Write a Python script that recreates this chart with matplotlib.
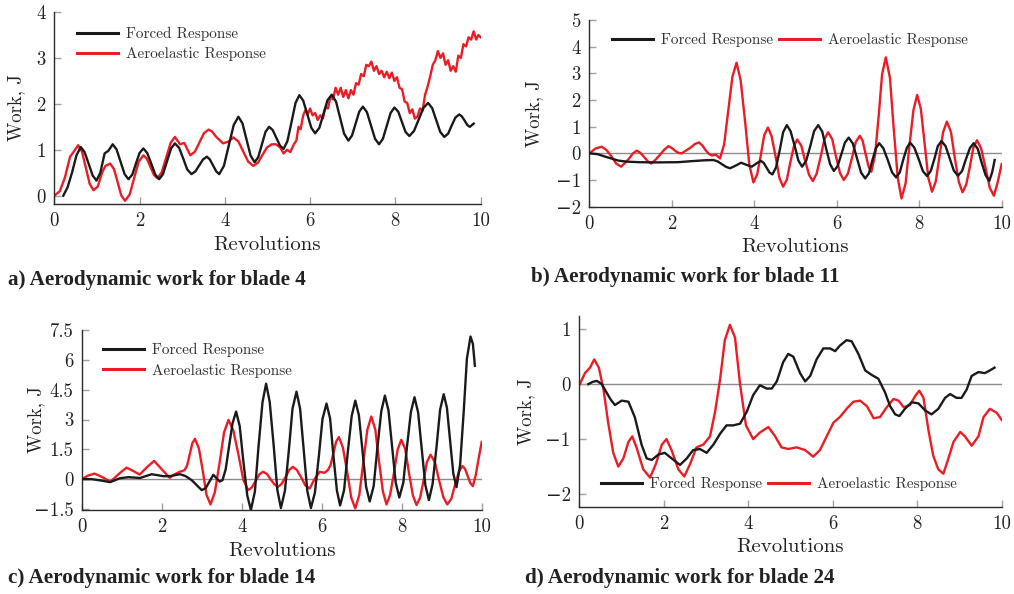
import matplotlib
matplotlib.use('Agg')
import matplotlib.pyplot as plt
from matplotlib.lines import Line2D

plt.rcParams['font.family'] = ['cmr10', 'DejaVu Serif']
plt.rcParams['mathtext.fontset'] = 'cm'
plt.rcParams['axes.unicode_minus'] = True

# ---------------- data (x = revolutions, y = work in J) ----------------
a_forced = [(0.21, 0.0), (0.31, 0.18), (0.415, 0.5), (0.52, 0.88), (0.62, 1.06), (0.71, 0.95), (0.805, 0.7),
            (0.90, 0.44), (0.99, 0.33), (1.08, 0.5), (1.18, 0.92), (1.27, 0.98), (1.37, 1.12), (1.46, 1.01),
            (1.555, 0.74), (1.65, 0.47), (1.74, 0.36), (1.83, 0.46), (1.915, 0.7), (2.0, 0.93), (2.09, 1.03),
            (2.18, 0.93), (2.275, 0.7), (2.37, 0.46), (2.46, 0.36), (2.55, 0.47), (2.645, 0.75), (2.74, 1.03),
            (2.83, 1.14), (2.93, 1.04), (3.025, 0.81), (3.12, 0.57), (3.22, 0.47), (3.31, 0.53), (3.40, 0.66),
            (3.49, 0.79), (3.58, 0.85), (3.65, 0.79), (3.725, 0.66), (3.80, 0.53), (3.87, 0.47), (3.98, 0.65),
            (4.095, 1.1), (4.21, 1.54), (4.32, 1.72), (4.415, 1.575), (4.51, 1.225), (4.605, 0.875),
            (4.70, 0.73), (4.785, 0.84), (4.87, 1.115), (4.955, 1.39), (5.04, 1.5), (5.125, 1.43),
            (5.21, 1.26), (5.295, 1.09), (5.38, 1.02), (5.47, 1.19), (5.565, 1.6), (5.66, 2.02), (5.75, 2.19),
            (5.84, 2.07), (5.935, 1.78), (6.03, 1.48), (6.12, 1.36), (6.22, 1.48), (6.315, 1.78), (6.41, 2.08),
            (6.51, 2.2), (6.61, 2.05), (6.705, 1.7), (6.80, 1.35), (6.90, 1.2), (6.985, 1.31), (7.07, 1.57),
            (7.155, 1.83), (7.24, 1.94), (7.335, 1.82), (7.43, 1.53), (7.525, 1.24), (7.62, 1.12),
            (7.71, 1.24), (7.80, 1.52), (7.89, 1.8), (7.98, 1.92), (8.07, 1.83), (8.155, 1.61), (8.24, 1.39),
            (8.33, 1.3), (8.44, 1.41), (8.55, 1.66), (8.66, 1.91), (8.77, 2.02), (8.865, 1.91), (8.96, 1.65),
            (9.055, 1.39), (9.15, 1.28), (9.24, 1.35), (9.325, 1.53), (9.41, 1.7), (9.50, 1.77), (9.56, 1.73),
            (9.625, 1.64), (9.69, 1.54), (9.75, 1.5), (9.84, 1.57)]
a_aero = [(0.0, 0.0), (0.13, 0.1), (0.25, 0.4), (0.37, 0.85), (0.45, 0.95), (0.56, 1.1), (0.65, 0.96),
          (0.74, 0.61), (0.83, 0.26), (0.92, 0.12), (1.02, 0.2), (1.12, 0.5), (1.20, 0.65), (1.31, 0.7),
          (1.40, 0.58), (1.485, 0.3), (1.57, 0.01), (1.66, -0.11), (1.77, 0.03), (1.875, 0.39), (1.98, 0.74),
          (2.09, 0.88), (2.17, 0.81), (2.255, 0.63), (2.34, 0.45), (2.42, 0.38), (2.52, 0.51), (2.625, 0.83),
          (2.73, 1.15), (2.83, 1.28), (2.95, 1.12), (3.05, 1.15), (3.19, 0.88), (3.30, 0.96), (3.405, 1.16),
          (3.51, 1.36), (3.62, 1.44), (3.70, 1.4), (3.80, 1.28), (3.96, 1.14), (4.09, 1.18), (4.20, 1.27),
          (4.32, 1.18), (4.435, 0.96), (4.55, 0.74), (4.67, 0.65), (4.78, 0.72), (4.885, 0.89), (4.99, 1.05),
          (5.10, 1.12), (5.20, 1.12), (5.30, 1.05), (5.38, 0.92), (5.46, 1.0), (5.54, 0.95), (5.62, 1.12),
          (5.68, 1.2), (5.73, 1.5), (5.78, 1.45), (5.84, 1.75), (5.89, 1.86), (5.95, 1.78), (6.00, 1.9),
          (6.06, 1.75), (6.12, 1.8), (6.18, 1.65), (6.24, 1.75), (6.30, 1.68), (6.36, 1.92), (6.42, 1.9),
          (6.48, 2.15), (6.54, 2.1), (6.60, 2.35), (6.66, 2.2), (6.72, 2.35), (6.78, 2.15), (6.84, 2.3),
          (6.90, 2.12), (6.96, 2.3), (7.02, 2.2), (7.08, 2.45), (7.14, 2.42), (7.20, 2.65), (7.26, 2.6),
          (7.32, 2.85), (7.38, 2.82), (7.44, 2.92), (7.50, 2.72), (7.56, 2.82), (7.62, 2.65), (7.68, 2.72),
          (7.74, 2.58), (7.80, 2.7), (7.86, 2.56), (7.92, 2.68), (7.98, 2.5), (8.04, 2.58), (8.10, 2.35),
          (8.16, 2.32), (8.22, 2.05), (8.28, 2.02), (8.34, 1.8), (8.40, 1.88), (8.46, 1.68), (8.52, 1.72),
          (8.58, 1.9), (8.64, 1.85), (8.70, 2.2), (8.76, 2.38), (8.82, 2.6), (8.88, 2.85), (8.94, 2.95),
          (9.00, 3.15), (9.06, 3.0), (9.12, 3.1), (9.18, 2.85), (9.24, 2.95), (9.30, 2.72), (9.36, 2.82),
          (9.42, 2.7), (9.48, 3.05), (9.54, 3.0), (9.60, 3.3), (9.66, 3.25), (9.72, 3.45), (9.78, 3.4),
          (9.84, 3.58), (9.90, 3.4), (9.95, 3.5), (10.0, 3.45)]

b_forced = [(0.0, 0.0), (0.2, -0.03), (0.38, -0.12), (0.55, -0.2), (0.7, -0.27), (0.9, -0.31), (1.19, -0.33),
            (1.6, -0.34), (2.16, -0.33), (2.5, -0.29), (2.8, -0.26), (3.01, -0.25), (3.11, -0.3), (3.21, -0.4),
            (3.31, -0.5), (3.41, -0.56), (3.55, -0.46), (3.68, -0.35), (3.81, -0.43), (3.94, -0.5),
            (4.05, -0.38), (4.16, -0.28), (4.23, -0.36), (4.30, -0.54), (4.37, -0.72), (4.44, -0.79),
            (4.53, -0.52), (4.62, 0.14), (4.70, 0.79), (4.79, 1.06), (4.88, 0.83), (4.98, 0.28), (5.07, -0.27),
            (5.16, -0.5), (5.26, -0.27), (5.36, 0.28), (5.45, 0.83), (5.55, 1.06), (5.65, 0.81), (5.74, 0.2),
            (5.84, -0.41), (5.93, -0.66), (6.02, -0.48), (6.11, -0.04), (6.20, 0.41), (6.29, 0.59),
            (6.39, 0.37), (6.49, -0.18), (6.59, -0.72), (6.69, -0.94), (6.78, -0.75), (6.86, -0.28),
            (6.95, 0.19), (7.03, 0.38), (7.13, 0.19), (7.24, -0.26), (7.34, -0.71), (7.44, -0.9),
            (7.53, -0.71), (7.61, -0.25), (7.70, 0.21), (7.78, 0.4), (7.88, 0.22), (7.99, -0.23),
            (8.09, -0.67), (8.19, -0.85), (8.28, -0.66), (8.37, -0.2), (8.45, 0.27), (8.54, 0.46),
            (8.64, 0.27), (8.74, -0.19), (8.84, -0.65), (8.94, -0.84), (9.04, -0.66), (9.13, -0.23),
            (9.23, 0.2), (9.32, 0.38), (9.42, 0.17), (9.51, -0.33), (9.61, -0.82), (9.70, -1.03),
            (9.77, -0.7), (9.83, -0.25)]
b_aero = [(0.0, 0.0), (0.15, 0.18), (0.3, 0.25), (0.42, 0.12), (0.54, -0.12), (0.65, -0.38), (0.77, -0.5),
          (0.87, -0.35), (0.96, -0.2), (1.06, 0.0), (1.15, 0.1), (1.24, 0.02), (1.33, -0.14), (1.42, -0.3),
          (1.5, -0.38), (1.6, -0.25), (1.71, -0.06), (1.82, 0.14), (1.92, 0.27), (2.0, 0.2), (2.08, 0.1),
          (2.16, 0.02), (2.24, 0.0), (2.34, 0.1), (2.45, 0.21), (2.56, 0.35), (2.66, 0.41), (2.74, 0.3),
          (2.82, 0.12), (2.9, -0.02), (2.97, -0.08), (3.07, -0.05), (3.17, -0.19), (3.27, 0.34),
          (3.37, 1.61), (3.47, 2.87), (3.57, 3.4), (3.67, 2.74), (3.78, 1.16), (3.88, -0.43), (3.98, -1.09),
          (4.07, -0.79), (4.16, -0.06), (4.24, 0.67), (4.33, 0.97), (4.42, 0.65), (4.52, -0.14),
          (4.61, -0.92), (4.70, -1.25), (4.79, -0.99), (4.87, -0.37), (4.96, 0.26), (5.04, 0.52),
          (5.14, 0.29), (5.23, -0.26), (5.33, -0.81), (5.42, -1.04), (5.51, -0.77), (5.61, -0.13),
          (5.70, 0.52), (5.79, 0.79), (5.89, 0.53), (5.98, -0.11), (6.08, -0.74), (6.17, -1.0),
          (6.27, -0.76), (6.37, -0.17), (6.46, 0.42), (6.56, 0.66), (6.63, 0.46), (6.70, -0.02),
          (6.77, -0.49), (6.84, -0.69), (6.93, -0.06), (7.02, 1.46), (7.10, 2.97), (7.19, 3.6),
          (7.29, 2.83), (7.38, 0.96), (7.48, -0.92), (7.57, -1.69), (7.67, -1.12), (7.76, 0.25),
          (7.86, 1.62), (7.95, 2.19), (8.04, 1.66), (8.13, 0.38), (8.22, -0.91), (8.31, -1.44),
          (8.40, -1.06), (8.49, -0.13), (8.58, 0.8), (8.67, 1.19), (8.77, 0.8), (8.86, -0.14),
          (8.96, -1.07), (9.05, -1.46), (9.14, -1.17), (9.23, -0.49), (9.31, 0.2), (9.40, 0.49),
          (9.50, 0.19), (9.61, -0.55), (9.71, -1.29), (9.81, -1.59), (9.90, -1.1), (10.0, -0.4)]

c_forced = [(0.0, 0.0), (0.25, 0.0), (0.46, -0.06), (0.71, -0.15), (0.96, 0.05), (1.17, 0.1), (1.46, 0.06),
            (1.75, 0.25), (2.04, 0.15), (2.2, 0.15), (2.46, 0.25), (2.6, 0.15), (2.75, -0.05), (2.9, -0.35),
            (3.0, -0.55), (3.1, -0.45), (3.2, -0.1), (3.29, 0.22), (3.37, 0.05), (3.45, -0.12),
            (3.52, -0.05), (3.6, 0.5), (3.68, 1.6), (3.77, 2.8), (3.86, 3.4), (3.95, 2.67), (4.04, 0.93),
            (4.14, -0.83), (4.23, -1.55), (4.33, -0.62), (4.42, 1.63), (4.52, 3.87), (4.61, 4.8),
            (4.70, 3.89), (4.80, 1.68), (4.89, -0.53), (4.98, -1.45), (5.08, -0.59), (5.18, 1.48),
            (5.27, 3.54), (5.37, 4.4), (5.46, 3.54), (5.55, 1.48), (5.64, -0.59), (5.73, -1.45),
            (5.83, -0.68), (5.93, 1.18), (6.02, 3.03), (6.12, 3.8), (6.21, 3.05), (6.29, 1.24),
            (6.38, -0.57), (6.46, -1.32), (6.56, -0.55), (6.65, 1.32), (6.75, 3.18), (6.84, 3.95),
            (6.93, 3.21), (7.02, 1.42), (7.11, -0.38), (7.20, -1.12), (7.30, -0.34), (7.39, 1.54),
            (7.49, 3.42), (7.58, 4.2), (7.67, 3.45), (7.76, 1.64), (7.85, -0.17), (7.94, -0.92),
            (8.04, -0.18), (8.13, 1.6), (8.23, 3.38), (8.32, 4.12), (8.41, 3.36), (8.50, 1.54),
            (8.59, -0.29), (8.68, -1.05), (8.77, -0.27), (8.87, 1.61), (8.96, 3.49), (9.05, 4.27),
            (9.13, 3.6), (9.21, 1.94), (9.29, 0.28), (9.37, -0.4), (9.46, 0.71), (9.55, 3.39),
            (9.63, 6.06), (9.72, 7.17), (9.78, 6.8), (9.83, 5.7)]
c_aero = [(0.0, 0.0), (0.16, 0.18), (0.32, 0.28), (0.52, 0.1), (0.72, -0.13), (0.92, 0.25), (1.12, 0.58),
          (1.28, 0.42), (1.45, 0.23), (1.63, 0.6), (1.81, 0.92), (2.0, 0.5), (2.2, 0.07), (2.33, 0.25),
          (2.45, 0.37), (2.57, 0.45), (2.635, 0.68), (2.70, 1.24), (2.765, 1.8), (2.83, 2.03), (2.93, 1.55),
          (3.03, 0.38), (3.12, -0.79), (3.22, -1.27), (3.33, -0.65), (3.45, 0.86), (3.56, 2.36),
          (3.67, 2.98), (3.79, 2.46), (3.92, 1.22), (4.04, -0.03), (4.16, -0.55), (4.25, -0.42),
          (4.35, -0.09), (4.44, 0.24), (4.53, 0.37), (4.63, 0.27), (4.72, 0.0), (4.82, -0.27),
          (4.91, -0.38), (5.0, -0.23), (5.1, 0.12), (5.19, 0.47), (5.28, 0.62), (5.38, 0.46), (5.49, 0.08),
          (5.59, -0.31), (5.7, -0.47), (5.82, 0.0), (5.95, 0.37), (6.07, 0.32), (6.15, 0.45), (6.22, 0.69),
          (6.29, 1.29), (6.36, 1.88), (6.43, 2.12), (6.53, 1.59), (6.64, 0.33), (6.74, -0.94),
          (6.84, -1.47), (6.94, -0.79), (7.04, 0.84), (7.14, 2.47), (7.24, 3.15), (7.34, 2.5), (7.43, 0.94),
          (7.53, -0.62), (7.62, -1.27), (7.71, -0.79), (7.81, 0.36), (7.90, 1.5), (7.99, 1.98), (8.09, 1.5),
          (8.18, 0.34), (8.28, -0.82), (8.37, -1.3), (8.46, -0.93), (8.55, -0.04), (8.63, 0.86),
          (8.72, 1.23), (8.83, 0.86), (8.93, -0.02), (9.04, -0.9), (9.14, -1.27), (9.24, -0.99),
          (9.33, -0.31), (9.43, 0.38), (9.52, 0.66), (9.585, 0.51), (9.65, 0.16), (9.715, -0.2),
          (9.78, -0.35), (9.85, 0.2), (9.92, 1.0), (10.0, 1.87)]

d_forced = [(0.22, 0.0), (0.32, 0.04), (0.42, 0.06), (0.54, 0.0), (0.65, -0.15), (0.75, -0.28), (0.85, -0.38),
            (1.01, -0.3), (1.17, -0.32), (1.32, -0.6), (1.48, -1.1), (1.60, -1.35), (1.72, -1.38),
            (1.88, -1.28), (2.03, -1.25), (2.19, -1.35), (2.39, -1.47), (2.55, -1.35), (2.70, -1.2),
            (2.86, -1.18), (3.02, -1.25), (3.18, -1.1), (3.34, -0.9), (3.49, -0.75), (3.65, -0.75),
            (3.81, -0.72), (3.97, -0.5), (4.12, -0.2), (4.28, -0.02), (4.44, -0.08), (4.56, -0.08),
            (4.68, 0.05), (4.83, 0.4), (4.95, 0.55), (5.07, 0.5), (5.23, 0.2), (5.35, 0.05), (5.47, 0.15),
            (5.62, 0.45), (5.78, 0.65), (5.94, 0.65), (6.06, 0.6), (6.17, 0.7), (6.33, 0.8), (6.45, 0.78),
            (6.61, 0.55), (6.77, 0.25), (6.92, 0.17), (7.08, 0.1), (7.24, -0.15), (7.36, -0.4),
            (7.48, -0.55), (7.58, -0.58), (7.71, -0.45), (7.87, -0.33), (8.03, -0.35), (8.19, -0.48),
            (8.34, -0.55), (8.50, -0.45), (8.66, -0.25), (8.78, -0.18), (8.93, -0.25), (9.05, -0.25),
            (9.17, -0.1), (9.29, 0.15), (9.45, 0.22), (9.60, 0.2), (9.72, 0.25), (9.83, 0.3)]
d_aero = [(0.02, 0.0), (0.14, 0.2), (0.26, 0.3), (0.36, 0.45), (0.47, 0.3), (0.58, -0.1), (0.69, -0.7),
          (0.81, -1.25), (0.93, -1.5), (1.05, -1.35), (1.17, -1.05), (1.26, -0.95), (1.36, -1.15),
          (1.52, -1.55), (1.68, -1.7), (1.82, -1.45), (1.96, -1.1), (2.07, -1.0), (2.19, -1.2),
          (2.35, -1.55), (2.49, -1.68), (2.63, -1.45), (2.78, -1.15), (2.94, -1.1), (3.10, -0.95),
          (3.22, -0.5), (3.34, 0.1), (3.45, 0.8), (3.57, 1.08), (3.69, 0.85), (3.81, 0.0), (3.95, -0.75),
          (4.12, -1.0), (4.28, -0.88), (4.48, -0.78), (4.64, -0.95), (4.79, -1.15), (4.95, -1.18),
          (5.15, -1.15), (5.35, -1.2), (5.54, -1.32), (5.70, -1.2), (5.86, -0.95), (6.02, -0.7),
          (6.17, -0.6), (6.33, -0.45), (6.49, -0.32), (6.65, -0.3), (6.81, -0.4), (6.97, -0.62),
          (7.12, -0.6), (7.28, -0.42), (7.44, -0.27), (7.56, -0.3), (7.68, -0.42), (7.83, -0.38),
          (7.95, -0.22), (8.05, -0.12), (8.15, -0.25), (8.27, -0.85), (8.38, -1.3), (8.50, -1.55),
          (8.62, -1.63), (8.74, -1.35), (8.86, -1.05), (9.02, -0.87), (9.13, -0.95), (9.29, -1.12),
          (9.45, -0.95), (9.57, -0.6), (9.72, -0.45), (9.88, -0.52), (10.0, -0.65)]

x_ticks = [0, 2, 4, 6, 8, 10]
x_ticklabels = ['0', '2', '4', '6', '8', '10']
a_yticks = [0, 1, 2, 3, 4]
a_yticklabels = ['0', '1', '2', '3', '4']
b_yticks = [-2, -1, 0, 1, 2, 3, 4, 5]
b_yticklabels = ['\u22122', '\u22121', '0', '1', '2', '3', '4', '5']
c_yticks = [-1.5, 0, 1.5, 3, 4.5, 6, 7.5]
c_yticklabels = ['\u22121.5', '0', '1.5', '3', '4.5', '6', '7.5']
d_yticks = [-2, -1, 0, 1]
d_yticklabels = ['\u22122', '\u22121', '0', '1']

series_labels = ['Forced Response', 'Aeroelastic Response']
captions = ['a) Aerodynamic work for blade 4', 'b) Aerodynamic work for blade 11',
            'c) Aerodynamic work for blade 14', 'd) Aerodynamic work for blade 24']

# ---------------- styling ----------------
W, H = 1014, 594
BLACK = '#1a1a1a'
RED = '#ec1c24'
LW = 1.7

fig = plt.figure(figsize=(W / 100, H / 100), dpi=100)


def px_rect(x0, x1, ytop, ybot):
    return [x0 / W, 1 - ybot / H, (x1 - x0) / W, (ybot - ytop) / H]


def setup(ax, ylim, yticks, yticklabels, zero_line, ylabel_x):
    ax.set_xlim(0, 10)
    ax.set_ylim(*ylim)
    for s in ['top', 'right']:
        ax.spines[s].set_visible(False)
    for s in ['left', 'bottom']:
        ax.spines[s].set_color('#2b2b2b')
        ax.spines[s].set_linewidth(1.0)
    ax.set_xticks(x_ticks, x_ticklabels)
    ax.set_yticks(yticks, yticklabels)
    ax.tick_params(direction='in', length=5, width=1, color='#a0a0a0', labelsize=13.5,
                   labelcolor='#222222', pad=6)
    ax.set_xlabel('Revolutions', fontsize=15, color='#222222', labelpad=4)
    ax.set_ylabel('Work, J', fontsize=13.5, color='#222222')
    ax.yaxis.set_label_coords(ylabel_x, 0.5)
    if zero_line:
        ax.axhline(0, color='#8c8c8c', lw=1.0, zorder=1)
    ax.patch.set_alpha(0)


def draw(ax, forced, aero):
    ax.plot([p[0] for p in forced], [p[1] for p in forced], color=BLACK, lw=LW, zorder=3,
            solid_joinstyle='round')
    ax.plot([p[0] for p in aero], [p[1] for p in aero], color=RED, lw=LW, zorder=2,
            solid_joinstyle='round')


def legend(ax, xpx, ypx, ncol):
    handles = [Line2D([], [], color=BLACK, lw=2.2), Line2D([], [], color=RED, lw=2.2)]
    ax.legend(handles, series_labels, loc='center left', ncol=ncol,
              bbox_to_anchor=(xpx / W, 1 - ypx / H), bbox_transform=fig.transFigure,
              frameon=False, fontsize=11, handlelength=2.7, handletextpad=0.5,
              columnspacing=0.4, labelspacing=0.42, borderpad=0, borderaxespad=0,
              labelcolor='#333333')


ax_a = fig.add_axes(px_rect(54.3, 480.5, 12, 204))
setup(ax_a, (-0.18, 4.0), a_yticks, a_yticklabels, False, -0.069)
draw(ax_a, a_forced, a_aero)
legend(ax_a, 77, 44, 1)

ax_b = fig.add_axes(px_rect(589.3, 1001.7, 20, 206.7))
setup(ax_b, (-2.0, 5.0), b_yticks, b_yticklabels, True, -0.112)
draw(ax_b, b_forced, b_aero)
legend(ax_b, 612, 40, 2)

ax_c = fig.add_axes(px_rect(81.7, 481.7, 330, 510))
setup(ax_c, (-1.55, 7.5), c_yticks, c_yticklabels, True, -0.092)
draw(ax_c, c_forced, c_aero)
legend(ax_c, 103, 360.5, 1)

ax_d = fig.add_axes(px_rect(579, 1001.7, 316, 506.7))
setup(ax_d, (-2.23, 1.24), d_yticks, d_yticklabels, True, -0.104)
draw(ax_d, d_forced, d_aero)
legend(ax_d, 601, 484, 2)

cap_pos = [(8, 280), (531, 277), (8, 578), (525, 578)]
for (cx, cy), txt in zip(cap_pos, captions):
    fig.text(cx / W, 1 - cy / H, txt, fontfamily='Liberation Serif', fontweight='bold',
             fontsize=15.2, ha='left', va='center', color='#222222')

fig.savefig('out.png', dpi=100)
